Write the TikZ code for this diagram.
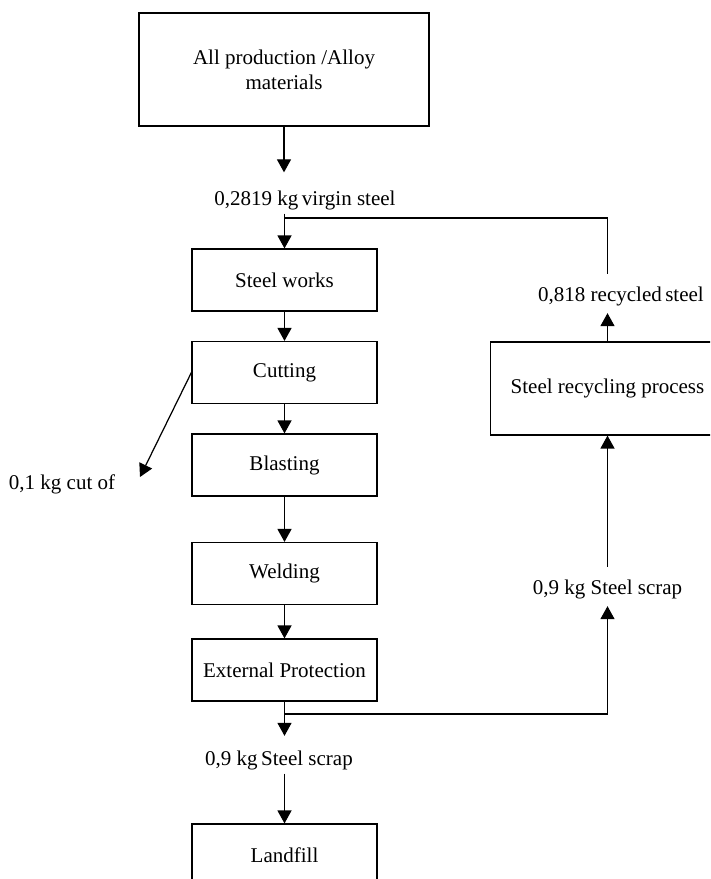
\documentclass[tikz,border=0pt]{standalone}
\usepackage{fontspec}
\setmainfont{Liberation Serif}
\usetikzlibrary{arrows.meta}
\tikzset{box/.style={draw, rectangle, minimum width=105.7pt, minimum height=35.4pt, align=center, inner sep=2pt},
  lbl/.style={inner xsep=0pt, inner ysep=2pt},
  flow/.style={-{Triangle[length=7.4pt,width=8pt]}}}

\begin{document}
\begin{tikzpicture}[x=0.5714pt, y=-0.5714pt, line width=0.7pt, font=\fontsize{12}{14.3}\selectfont]
  \useasboundingbox (0,0) rectangle (710,879);
  \clip (0,0) rectangle (710,879);
  % process boxes
  \node[box, minimum width=165.7pt, minimum height=64.6pt] (alloy) at (284,69.5) {All production /Alloy\\materials};
  \node[box] (works)    at (284.5,280)   {Steel works};
  \node[box] (cutting)  at (284.5,372.5) {Cutting};
  \node[box] (blasting) at (284.5,465)   {Blasting};
  \node[box] (welding)  at (284.5,573.5) {Welding};
  \node[box] (extprot)  at (284.5,670)   {External Protection};
  \node[box] (landfill) at (284.5,855)   {Landfill};
  \node[box, minimum width=133.7pt, minimum height=53.1pt] (recycle) at (607.5,388.5) {Steel recycling process};
  % flow labels
  \node[lbl] (virgin)   at (305,200) {0,2819 kg\,virgin steel};
  \node[lbl] (recycled) at (621,296) {0,818 recycled\,steel};
  \node[lbl] (cutoff)   at (62,484)  {0,1 kg cut of};
  \node[lbl] (scrapR)   at (607.5,589) {0,9 kg Steel scrap};
  \node[lbl] (scrapD)   at (279,760) {0,9 kg\,Steel scrap};
  \coordinate (join)   at (284.5,218);
  \coordinate (split)  at (284.5,714);
  \coordinate (offcut) at (140,477);
  % main line
  \draw[flow, shorten >=8pt] (alloy.south) -- (alloy.south |- virgin.north);
  \draw[flow] (works.north |- virgin.south) -- (works.north);
  \draw[flow] (works) -- (cutting);
  \draw[flow] (cutting) -- (blasting);
  \draw[flow] (blasting) -- (welding);
  \draw[flow] (welding) -- (extprot);
  \draw[flow, shorten >=6pt] (extprot) -- (extprot.south |- scrapD.north);
  \draw[flow] (landfill.north |- scrapD.south) -- (landfill);
  \draw[flow] (cutting.west) -- (offcut);
  % recycling loop
  \draw[flow, shorten >=2pt] (split) -| (scrapR.south);
  \draw[flow, shorten <=5pt] (scrapR.north) -- (recycle.south);
  \draw[flow, shorten >=2pt] (recycle) -- (recycle.north |- recycled.south);
  \draw[shorten <=5pt] (recycle.north |- recycled.north) |- (join);
\end{tikzpicture}
\end{document}
